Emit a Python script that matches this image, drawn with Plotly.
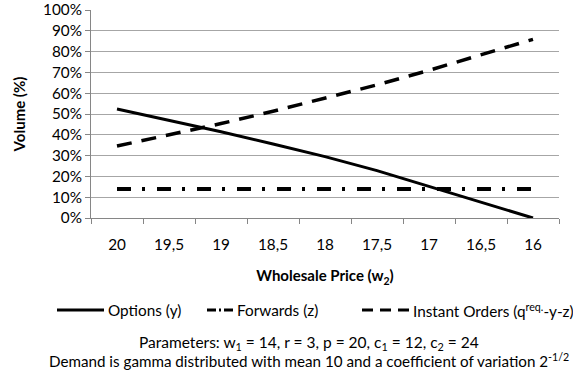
import plotly.graph_objects as go

# Wholesale price categories (w2), shown in decreasing order
prices = ["20", "19,5", "19", "18,5", "18", "17,5", "17", "16,5", "16"]

# Volumes in percent
options_y = [52.4, 47.0, 41.5, 35.6, 29.5, 22.8, 15.2, 7.7, 0.0]
forwards_z = [14.0, 14.0, 14.0, 14.0, 14.0, 14.0, 14.0, 14.0, 14.0]
instant_orders = [34.6, 40.0, 45.4, 51.3, 57.5, 64.0, 71.0, 78.3, 85.9]

series_names = ["Options (y)", "Forwards (z)", "Instant Orders (q<sup>req.</sup>-y-z)"]

y_ticks = [0, 10, 20, 30, 40, 50, 60, 70, 80, 90, 100]
y_tick_text = [f"{v}%" for v in y_ticks]

FONT = "Lato, Calibri, Carlito, sans-serif"
W, H = 573, 375
L, R, T, B = 91, 14, 10, 157          # plot area: x 91..559, y 10..218
PW, PH = W - L - R, H - T - B


def px_to_paper_y(py):
    """Pixel row (from top) to paper y coordinate."""
    return (H - B - py) / PH


def px_to_paper_x(px):
    """Pixel column (from left) to paper x coordinate."""
    return (px - L) / PW


# Line styles shared by the traces and the key below the chart
styles = [
    dict(width=3, dash="solid", key_dash="solid", key_len=47),
    dict(width=4, dash="14px,11px,3px,12px", key_dash="9px,3px,2px,3px,9px", key_len=26),
    dict(width=3.5, dash="15px,10px", key_dash="11px,7px", key_len=47),
]

fig = go.Figure()
for name, values, st in zip(series_names, [options_y, forwards_z, instant_orders], styles):
    fig.add_trace(go.Scatter(
        x=prices, y=values, mode="lines", name=name, showlegend=False,
        line=dict(color="black", width=st["width"], dash=st["dash"]),
    ))

# Hand-built key: sample line followed by its label
key_y = 310
key_starts = [57, 207, 362]
shapes, annotations = [], []
for name, st, x0 in zip(series_names, styles, key_starts):
    x1 = x0 + st["key_len"]
    shapes.append(dict(
        type="line", xref="paper", yref="paper",
        x0=px_to_paper_x(x0), x1=px_to_paper_x(x1),
        y0=px_to_paper_y(key_y), y1=px_to_paper_y(key_y),
        line=dict(color="black", width=3, dash=st["key_dash"]),
    ))
    annotations.append(dict(
        text=name, x=px_to_paper_x(x1 + 2), xref="paper", xanchor="left",
        y=px_to_paper_y(key_y), yref="paper", yanchor="middle",
        showarrow=False, font=dict(family=FONT, size=15.3, color="black"),
    ))

annotations += [
    dict(text="Parameters: w<sub>1</sub> = 14, r = 3, p = 20, c<sub>1</sub> = 12, c<sub>2</sub> = 24",
         x=px_to_paper_x(309), xref="paper", xanchor="center",
         y=px_to_paper_y(343), yref="paper", yanchor="middle",
         showarrow=False, font=dict(family=FONT, size=15.5, color="black")),
    dict(text="Demand is gamma distributed with mean 10 and a coefficient of variation 2<sup>-1/2</sup>",
         x=px_to_paper_x(309), xref="paper", xanchor="center",
         y=px_to_paper_y(360), yref="paper", yanchor="middle",
         showarrow=False, font=dict(family=FONT, size=15.2, color="black")),
]

fig.update_layout(
    width=W, height=H,
    margin=dict(l=L, r=R, t=T, b=B, autoexpand=False),
    paper_bgcolor="white", plot_bgcolor="white",
    font=dict(family=FONT, size=15, color="black"),
    showlegend=False,
    shapes=shapes,
    annotations=annotations,
)

fig.update_xaxes(
    type="category", categoryorder="array", categoryarray=prices,
    range=[-0.5, 8.5], automargin=False,
    showline=True, linecolor="#868686", linewidth=1,
    ticks="outside", tickson="boundaries", ticklen=5, tickcolor="#868686",
    ticklabelstandoff=13,
    showgrid=False, zeroline=False,
    tickfont=dict(family=FONT, size=15.3, color="black"),
    title=dict(text="<b>Wholesale Price (w<sub>2</sub>)</b>", standoff=18,
               font=dict(family=FONT, size=15, color="black")),
)
fig.update_yaxes(
    range=[0, 100], tickvals=y_ticks, ticktext=y_tick_text, automargin=False,
    showline=True, linecolor="#868686", linewidth=1,
    ticks="outside", ticklen=5, tickcolor="#868686",
    showgrid=True, gridcolor="#a6a6a6", gridwidth=1, zeroline=False,
    tickfont=dict(family=FONT, size=15.3, color="black"),
    title=dict(text="<b>Volume (%)</b>", standoff=13,
               font=dict(family=FONT, size=15, color="black")),
)

fig.write_html("out.html")
